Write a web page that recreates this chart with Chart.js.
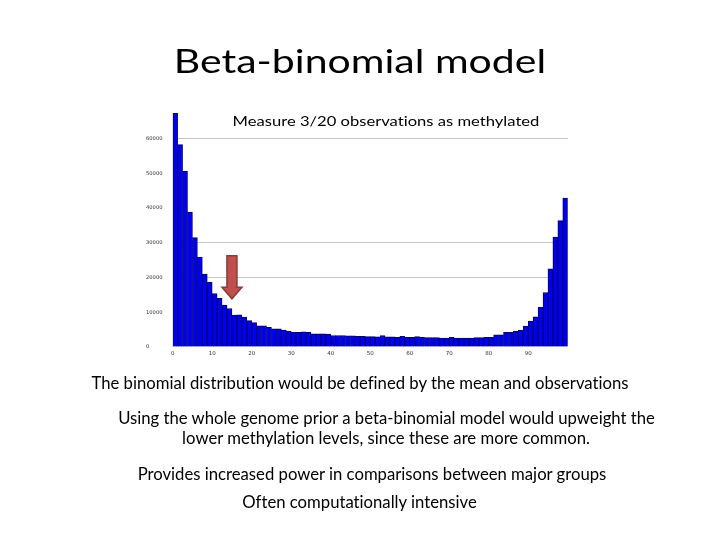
<!DOCTYPE html>
<html lang="en">
<head>
    <meta charset="UTF-8">
    <title>Beta-binomial model</title>
    <script src="https://cdn.jsdelivr.net/npm/chart.js"></script>
    <style>
        body { margin: 0; background: #fff; }
        #slide { position: relative; width: 720px; height: 540px; overflow: hidden; font-family: Lato, "Open Sans", sans-serif; color: #000; font-variant-ligatures: none; }
        #chartBox { position: absolute; left: 0; top: 0; width: 720px; height: 540px; }
        .txt { position: absolute; white-space: nowrap; transform: translateX(-50%); transform-origin: 50% 0; line-height: 1; }
        .flat { transform: translateX(-50%) scaleY(0.8); }
    </style>
</head>
<body>
<div id="slide">
    <div id="chartBox"><canvas id="histChart"></canvas></div>

    <div class="txt flat" style="left:360px; top:43.6px; font-size:41px;">Beta-binomial model</div>
    <div class="txt flat" style="left:386px; top:115px; font-size:16.6px;">Measure 3/20 observations as methylated</div>

    <div class="txt" style="left:360px; top:375.2px; font-size:16.7px;">The binomial distribution would be defined by the mean and observations</div>
    <div class="txt" style="left:386.5px; top:410.2px; font-size:16.7px;">Using the whole genome prior a beta-binomial model would upweight the</div>
    <div class="txt" style="left:386px; top:430.2px; font-size:16.7px;">lower methylation levels, since these are more common.</div>
    <div class="txt" style="left:372px; top:466.2px; font-size:16.7px;">Provides increased power in comparisons between major groups</div>
    <div class="txt" style="left:359.5px; top:493.5px; font-size:16.7px;">Often computationally intensive</div>
</div>

<script>
    // methylation level histogram, 80 bins of 1.25% each (0..100)
    const binWidth = 1.25;
    const counts = [
        67300, 58300, 50600, 38900, 31500, 25900, 21000, 18600, 15400, 14000,
        12100, 11100, 9200, 9300, 8600, 7600, 7000, 6100, 6100, 5700,
        5200, 5200, 4900, 4600, 4200, 4200, 4400, 4200, 3800, 3800,
        3800, 3700, 3300, 3300, 3300, 3200, 3200, 3100, 3100, 3000,
        3000, 2900, 3300, 2900, 2900, 2800, 3100, 2800, 2800, 3000,
        2800, 2700, 2700, 2700, 2600, 2600, 2800, 2600, 2600, 2600,
        2600, 2700, 2700, 2800, 2800, 3500, 3500, 4200, 4200, 4500,
        4900, 6000, 7500, 8700, 11400, 15700, 22500, 31700, 36400, 42900
    ];
    const xTicks = [0, 10, 20, 30, 40, 50, 60, 70, 80, 90];
    const yTicks = [0, 10000, 20000, 30000, 40000, 50000, 60000];
    const shownGrid = [20000, 30000, 60000];

    // red arrow pointing at 3/20 = 15%
    const arrowAt = 15;
    const arrowTop = 26300;
    const arrowNeck = 17200;
    const arrowTip = 13900;

    const arrowPlugin = {
        id: 'arrow',
        afterDatasetsDraw(chart) {
            const { ctx, scales: { x, y } } = chart;
            const cx = x.getPixelForValue(arrowAt);
            const top = y.getPixelForValue(arrowTop);
            const neck = y.getPixelForValue(arrowNeck);
            const tip = y.getPixelForValue(arrowTip);
            ctx.save();
            ctx.beginPath();
            ctx.moveTo(cx - 5, top);
            ctx.lineTo(cx + 5, top);
            ctx.lineTo(cx + 5, neck);
            ctx.lineTo(cx + 10, neck);
            ctx.lineTo(cx, tip);
            ctx.lineTo(cx - 10, neck);
            ctx.lineTo(cx - 5, neck);
            ctx.closePath();
            ctx.fillStyle = '#c0504d';
            ctx.fill();
            ctx.lineWidth = 1.5;
            ctx.strokeStyle = '#8a3b38';
            ctx.stroke();
            ctx.restore();
        }
    };

    const points = counts.map((c, i) => ({ x: (i + 0.5) * binWidth, y: c }));

    new Chart(document.getElementById('histChart'), {
        type: 'bar',
        data: {
            datasets: [{
                data: points,
                backgroundColor: '#0000ee',
                borderColor: '#000070',
                borderWidth: 1,
                categoryPercentage: 1.0,
                barPercentage: 1.0
            }]
        },
        options: {
            responsive: true,
            maintainAspectRatio: false,
            animation: false,
            layout: { padding: { left: 146, right: 152.3, top: 104, bottom: 173 } },
            plugins: { legend: { display: false }, tooltip: { enabled: false } },
            scales: {
                x: {
                    type: 'linear',
                    offset: false,
                    min: 0,
                    max: 100,
                    afterFit(scale) { scale.height = 20; },
                    afterBuildTicks(scale) { scale.ticks = xTicks.map(v => ({ value: v })); },
                    grid: { display: false, drawTicks: false },
                    border: { display: false },
                    ticks: {
                        font: { size: 5.5, family: 'DejaVu Sans' }, color: '#333', padding: 3, maxRotation: 0,
                        callback: v => String(v)
                    }
                },
                y: {
                    min: 0,
                    max: 70000,
                    afterFit(scale) { scale.width = 26.7; },
                    afterBuildTicks(scale) { scale.ticks = yTicks.map(v => ({ value: v })); },
                    grid: {
                        drawTicks: false,
                        color: c => shownGrid.includes(c.tick.value) ? '#c4c4c4' : 'rgba(0,0,0,0)'
                    },
                    border: { display: false },
                    ticks: {
                        font: { size: 5.2, family: 'DejaVu Sans' }, color: '#333', crossAlign: 'far',
                        callback: v => String(v)
                    }
                }
            }
        },
        plugins: [arrowPlugin]
    });
</script>
</body>
</html>
